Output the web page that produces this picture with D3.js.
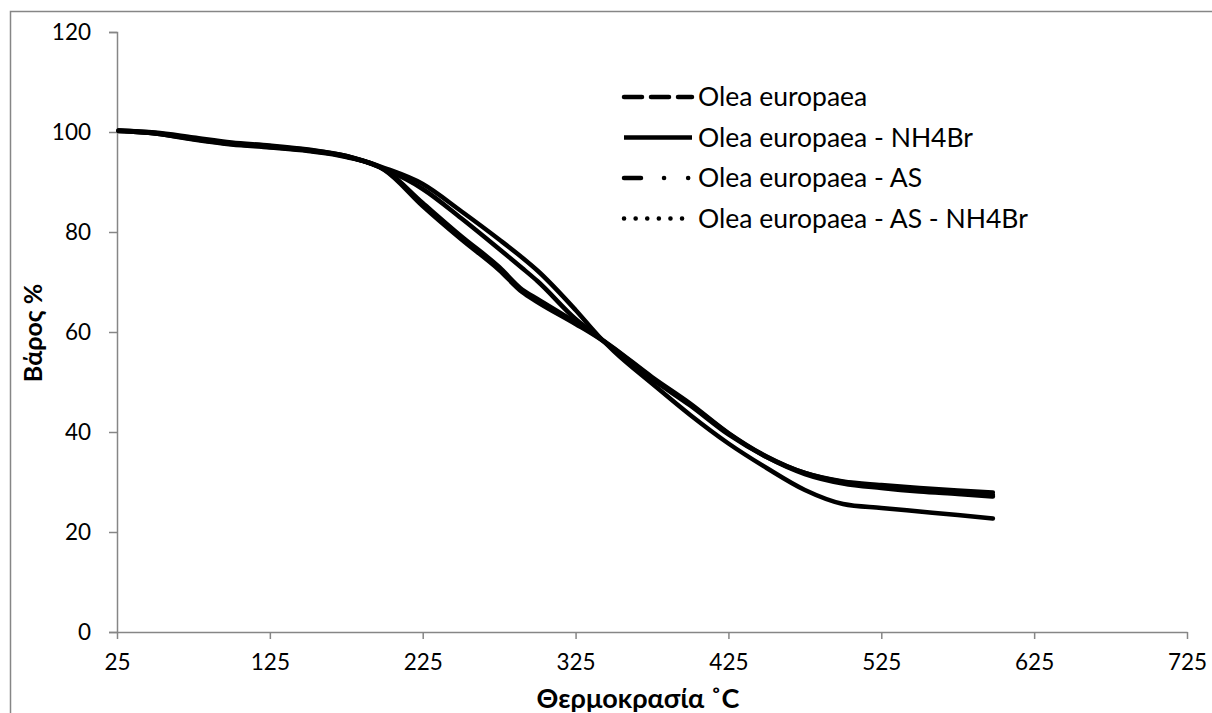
<!DOCTYPE html>
<html>
<head>
<meta charset="utf-8">
<script src="https://cdn.jsdelivr.net/npm/d3@7"></script>
<style>
  html, body { margin: 0; padding: 0; background: #fff; }
  svg { display: block; }
  text { font-family: Lato, "Open Sans", "Liberation Sans", sans-serif; fill: #000; }
</style>
</head>
<body>
<svg id="chart" width="1212" height="713"></svg>
<script>
// ---- data ----
const temps = [26, 50, 75, 100, 125, 150, 175, 200, 225, 250, 275, 290, 300, 325, 340, 350, 375, 400, 425, 450, 475, 500, 525, 550, 575, 598];
const oleaEuropaea      = [100.3, 99.9, 98.9, 97.9, 97.3, 96.5, 95.2, 92.8, 89.6, 84.2, 78.5, 74.9, 72.3, 64.4, 59.2, 56.2, 49.7, 43.4, 37.7, 32.8, 28.4, 25.6, 24.8, 24.1, 23.4, 22.7];
const oleaNH4Br         = [100.2, 99.7, 98.5, 97.5, 96.9, 96.2, 95.0, 92.4, 85.2, 78.6, 72.4, 68.0, 66.0, 61.6, 58.8, 56.6, 50.6, 45.3, 39.5, 35.0, 31.8, 30.1, 29.4, 28.8, 28.3, 27.9];
const oleaAS            = [100.3, 99.8, 98.7, 97.7, 97.1, 96.4, 95.2, 92.6, 88.6, 82.8, 76.6, 72.8, 70.2, 62.6, 59.0, 56.8, 51.0, 45.7, 39.8, 35.1, 31.8, 30.0, 29.2, 28.6, 28.0, 27.4];
const oleaASNH4Br       = [100.2, 99.7, 98.6, 97.6, 97.0, 96.3, 95.1, 92.5, 85.8, 79.2, 73.0, 68.5, 66.6, 61.9, 58.9, 56.7, 50.8, 45.5, 39.7, 35.0, 31.6, 29.7, 28.8, 28.1, 27.6, 27.1];
const seriesNames = ["Olea europaea", "Olea europaea - NH4Br", "Olea europaea - AS", "Olea europaea - AS - NH4Br"];
const seriesValues = [oleaEuropaea, oleaNH4Br, oleaAS, oleaASNH4Br];
const xTicks = [25, 125, 225, 325, 425, 525, 625, 725];
const yTicks = [0, 20, 40, 60, 80, 100, 120];
const xTitle = "Θερμοκρασία ˚C";
const yTitle = "Βάρος %";

// ---- layout ----
const svg = d3.select("#chart");
const L = 117, R = 1187, T = 32, B = 632;
const x = d3.scaleLinear().domain([25, 725]).range([L, R]);
const y = d3.scaleLinear().domain([0, 120]).range([B, T]);
const axisColor = "#868686";

// outer chart border
svg.append("rect").attr("x", 10.5).attr("y", 11.5).attr("width", 1240).attr("height", 740)
  .attr("fill", "none").attr("stroke", axisColor).attr("stroke-width", 1.5);

// y axis
const yAxis = svg.append("g").attr("transform", `translate(${L},0)`)
  .call(d3.axisLeft(y).tickValues(yTicks).tickSize(8).tickPadding(18));
yAxis.select(".domain").attr("stroke", axisColor).attr("stroke-width", 1.5);
yAxis.selectAll(".tick line").attr("stroke", axisColor).attr("stroke-width", 1.5);
yAxis.selectAll(".tick text").attr("font-size", 22.5).attr("font-family", "Lato, sans-serif").attr("fill", "#000");

// x axis
const xAxis = svg.append("g").attr("transform", `translate(0,${B})`)
  .call(d3.axisBottom(x).tickValues(xTicks).tickSize(7).tickPadding(15).tickSizeOuter(0));
xAxis.select(".domain").attr("stroke", axisColor).attr("stroke-width", 1.5);
xAxis.selectAll(".tick line").attr("stroke", axisColor).attr("stroke-width", 1.5);
xAxis.selectAll(".tick text").attr("font-size", 22.5).attr("font-family", "Lato, sans-serif").attr("fill", "#000");

// axis titles
svg.append("text").attr("x", 638).attr("y", 708).attr("text-anchor", "middle")
  .attr("font-size", 27).attr("font-weight", "bold").text(xTitle);
svg.append("text").attr("transform", "translate(42,333) rotate(-90)").attr("text-anchor", "middle")
  .attr("font-size", 25).attr("font-weight", "bold").text(yTitle);

// series lines (dense Excel-style rendering makes all patterns look solid)
const line = d3.line().x((d, i) => x(temps[i])).y(d => y(d)).curve(d3.curveMonotoneX);
const order = [1, 3, 2, 0];
order.forEach(k => {
  svg.append("path").datum(seriesValues[k]).attr("d", line)
    .attr("fill", "none").attr("stroke", "#000").attr("stroke-width", 4.5)
    .attr("stroke-linecap", "round").attr("stroke-linejoin", "round");
});

// legend
const dashes = ["18,9", null, "17,23,0.1,24,0.1,100", "0.1,11.5"];
const legend = svg.append("g");
seriesNames.forEach((name, i) => {
  const ly = 97 + i * 40.5;
  legend.append("line").attr("x1", 624).attr("x2", 692).attr("y1", ly).attr("y2", ly)
    .attr("stroke", "#000").attr("stroke-width", 4.5).attr("stroke-linecap", i === 1 ? "butt" : "round")
    .attr("stroke-dasharray", dashes[i]);
  legend.append("text").attr("x", 698).attr("y", ly).attr("dy", "0.35em")
    .attr("font-size", 26.5).text(name);
});
</script>
</body>
</html>
